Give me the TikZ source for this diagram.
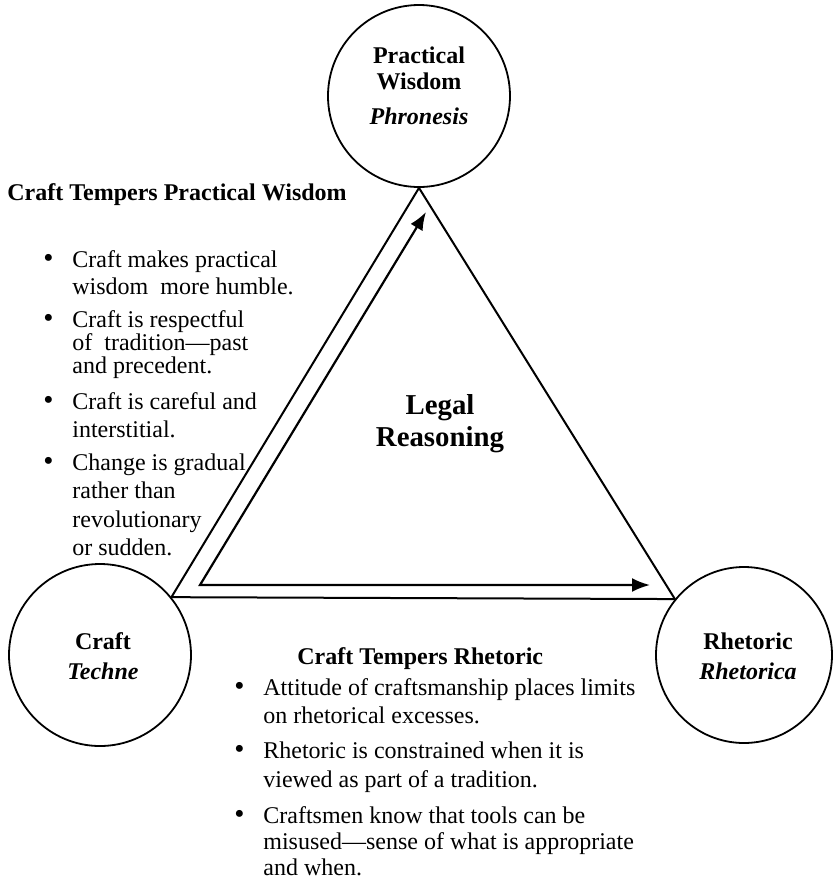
\documentclass[tikz,border=0pt]{standalone}
\usepackage{fontspec}
\setmainfont{Liberation Serif}
\usetikzlibrary{arrows.meta, positioning, calc}

\newcommand{\itembul}{\makebox[14.5pt][l]{\fontsize{14.5}{13}\selectfont\textbullet}}

\begin{document}
\begin{tikzpicture}[
    x=0.5pt, y=-0.5pt,
    hub/.style={circle, draw, line width=0.9pt, inner sep=0pt},
    hubtext/.style={anchor=north, inner sep=0pt, align=center, font=\fontsize{12}{13}\selectfont\bfseries},
    heading/.style={anchor=base west, inner sep=0pt, font=\fontsize{12}{14}\selectfont\bfseries},
    bullets/.style={anchor=north west, inner sep=0pt},
    side/.style={line width=1pt, line join=miter},
    flow/.style={line width=1.1pt, line join=miter, {Latex[length=9pt,width=7pt]}-{Latex[length=9pt,width=7pt]}}
]
\useasboundingbox (0,0) rectangle (834,880);

% Nodes
\node[hub, minimum size=91pt] (wisdom) at (419,96) {};
\node[hub, minimum size=91pt] (craft) at (100,655) {};
\node[hub, minimum size=88pt] (rhetoric) at (744,655) {};

\node[hubtext] (wisdomtext) at (419,46) {Practical\\Wisdom\\[4.5pt]\textit{Phronesis}};
\node[hubtext] (crafttext) at (103,632) {Craft\\[2pt]\textit{Techne}};
\node[hubtext] (rhetorictext) at (748,632) {Rhetoric\\[2pt]\textit{Rhetorica}};

\node[hubtext, font=\fontsize{14.4}{16}\selectfont\bfseries] (legal) at (440,394) {Legal\\Reasoning};

\node[heading] (wisdomhead) at (7,200) {Craft Tempers Practical Wisdom};
\node[bullets, font=\fontsize{12}{13}\selectfont] (wisdomlist) at (43,249) {%
\begin{tabular}{@{}l@{}l@{}}
\itembul & Craft makes practical\\[0.5pt]
 & wisdom\ \ more humble.\\[3.5pt]
\itembul & Craft is respectful\\[-1.5pt]
 & of\ \ tradition---past\\[-1.5pt]
 & and precedent.\\[5pt]
\itembul & Craft is careful and\\[1pt]
 & interstitial.\\[3.5pt]
\itembul & Change is gradual\\[1pt]
 & rather than\\[1.5pt]
 & revolutionary\\[1pt]
 & or sudden.
\end{tabular}};

\node[heading] (rhetorichead) at (297,664) {Craft Tempers Rhetoric};
\node[bullets, font=\fontsize{12}{13.5}\selectfont] (rhetoriclist) at (234,676) {%
\begin{tabular}{@{}l@{}l@{}}
\itembul & Attitude of craftsmanship places limits\\[0.5pt]
 & on rhetorical excesses.\\[4pt]
\itembul & Rhetoric is constrained when it is\\[1pt]
 & viewed as part of a tradition.\\[4.5pt]
\itembul & Craftsmen know that tools can be\\[-0.5pt]
 & misused---sense of what is appropriate\\[-0.5pt]
 & and when.
\end{tabular}};

% Triangle
\draw[side] (wisdom.south) -- (craft.39) -- (rhetoric.141) -- cycle;

% Arrows
\coordinate (corner) at (200,585);
\coordinate (uptip) at (426,212);
\coordinate (righttip) at (650,585);
\draw[flow] (uptip) -- (corner) -- (righttip);

\end{tikzpicture}
\end{document}
